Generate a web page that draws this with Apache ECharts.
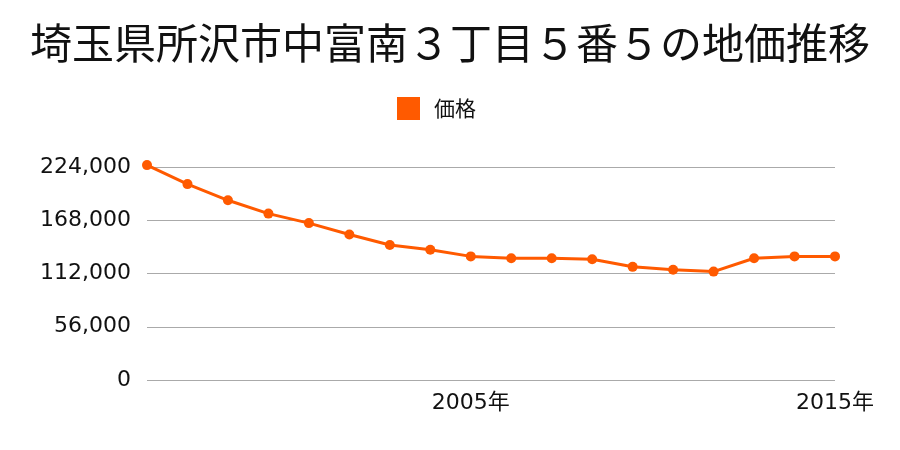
<!DOCTYPE html>
<html><head><meta charset="utf-8">
<script src="https://cdn.jsdelivr.net/npm/echarts@6/dist/echarts.min.js"></script>
<style>html,body{margin:0;padding:0;background:#fff}#c{width:900px;height:450px}</style>
</head><body><div id="c"></div>
<script>
const titleText = '埼玉県所沢市中富南３丁目５番５の地価推移';
const seriesName = '価格';
const categories = ['1997年','1998年','1999年','2000年','2001年','2002年','2003年','2004年','2005年','2007年','2008年','2009年','2010年','2011年','2012年','2013年','2014年','2015年'];
const prices = [226000,206000,189000,175000,165000,153000,142000,137000,130000,128000,128000,127000,119000,116000,114000,128000,130000,130000];
const shownTickLabels = ['2005年','2015年'];
const yTicks = [0,56000,112000,168000,224000];

const font = '"Noto Sans CJK JP", "Noto Sans", sans-serif';
const numFont = '"DejaVu Sans", "Noto Sans CJK JP", sans-serif';
const chart = echarts.init(document.getElementById('c'));
chart.setOption({
  animation: false,
  title: { text: titleText, left: 'center', top: 17,
    textStyle: { fontFamily: font, fontSize: 42, fontWeight: 'normal', color: '#111' } },
  legend: { data: [seriesName], top: 92, left: 392, itemWidth: 23, itemHeight: 23, itemGap: 10,
    icon: 'rect', textStyle: { fontFamily: font, fontSize: 21, color: '#111', padding: [0,0,0,9] } },
  grid: { left: 147, right: 65, top: 167, bottom: 70 },
  xAxis: { type: 'category', data: categories, boundaryGap: false,
    axisLine: { show: false }, axisTick: { show: false },
    axisLabel: { interval: (i, v) => shownTickLabels.includes(v), margin: 12,
      fontFamily: numFont, fontSize: 22, color: '#111' } },
  yAxis: { type: 'value', min: yTicks[0], max: yTicks[yTicks.length-1], interval: 56000,
    axisLine: { show: false }, axisTick: { show: false },
    splitLine: { lineStyle: { color: '#aaa', width: 1 } },
    axisLabel: { margin: 16, fontFamily: numFont, fontSize: 22, color: '#111', padding: [4,0,0,0],
      formatter: v => v.toLocaleString('en-US') } },
  series: [{ name: seriesName, type: 'line', data: prices, color: '#ff5a00', clip: false,
    symbol: 'circle', symbolSize: 10, lineStyle: { width: 3 } }]
});
</script></body></html>
